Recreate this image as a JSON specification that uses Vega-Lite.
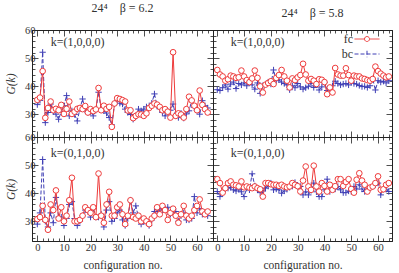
{
"$schema": "https://vega.github.io/schema/vega-lite/v6.json",
"padding": {"left": 5, "right": 1, "top": 1, "bottom": 1},
"spacing": 0,
"bounds": "flush",
"columns": 2,
"resolve": {"scale": {"color": "independent", "shape": "independent", "strokeDash": "independent"}, "legend": {"color": "independent", "shape": "independent", "strokeDash": "independent"}},
"datasets": {
"tl": [
{"c":0,"fc":35.2,"bc":33.5},{"c":1,"fc":36,"bc":35},{"c":2,"fc":45.4,"bc":52.1},{"c":3,"fc":28.8,"bc":27.1},{"c":4,"fc":32.3,"bc":30.7},{"c":5,"fc":34.6,"bc":33.7},{"c":6,"fc":31.5,"bc":31},{"c":7,"fc":32,"bc":30.1},{"c":8,"fc":31.5,"bc":28.3},{"c":9,"fc":33.4,"bc":31},{"c":10,"fc":30.2,"bc":33.1},{"c":11,"fc":32,"bc":36.7},{"c":12,"fc":34.6,"bc":29.5},{"c":13,"fc":30.2,"bc":31.3},{"c":14,"fc":31,"bc":30},{"c":15,"fc":32,"bc":27.7},{"c":16,"fc":32.3,"bc":32},{"c":17,"fc":31.9,"bc":35.5},{"c":18,"fc":33,"bc":31.5},{"c":19,"fc":30.7,"bc":30.7},{"c":20,"fc":31.9,"bc":31},{"c":21,"fc":31.2,"bc":29.5},{"c":22,"fc":31.8,"bc":31.5},{"c":23,"fc":39.4,"bc":37.9},{"c":24,"fc":31.5,"bc":31.9},{"c":25,"fc":33.1,"bc":31.3},{"c":26,"fc":32,"bc":30.5},{"c":27,"fc":32.7,"bc":28.9},{"c":28,"fc":25.6,"bc":26.3},{"c":29,"fc":33.9,"bc":33.7},{"c":30,"fc":35.8,"bc":35.1},{"c":31,"fc":35.5,"bc":34},{"c":32,"fc":35.1,"bc":33.7},{"c":33,"fc":34.6,"bc":31.9},{"c":34,"fc":31.4,"bc":30.7},{"c":35,"fc":31.5,"bc":30},{"c":36,"fc":28.7,"bc":28.3},{"c":37,"fc":29.5,"bc":29.5},{"c":38,"fc":30.1,"bc":31.9},{"c":39,"fc":30,"bc":31.3},{"c":40,"fc":29.5,"bc":31.9},{"c":41,"fc":30.4,"bc":32.7},{"c":42,"fc":32.3,"bc":32.5},{"c":43,"fc":33.1,"bc":34},{"c":44,"fc":33.9,"bc":37.3},{"c":45,"fc":33.5,"bc":33.1},{"c":46,"fc":32.7,"bc":32},{"c":47,"fc":31.5,"bc":30.7},{"c":48,"fc":31.9,"bc":29.5},{"c":49,"fc":31,"bc":31.1},{"c":50,"fc":28.9,"bc":31.5},{"c":51,"fc":52.1,"bc":33.7},{"c":52,"fc":29.5,"bc":29.5},{"c":53,"fc":30.4,"bc":28.9},{"c":54,"fc":30,"bc":30.4},{"c":55,"fc":28.9,"bc":28.7},{"c":56,"fc":31.9,"bc":30.2},{"c":57,"fc":36.3,"bc":31.3},{"c":58,"fc":35,"bc":34.9},{"c":59,"fc":33.1,"bc":32.5},{"c":60,"fc":31.5,"bc":31.5},{"c":61,"fc":38.5,"bc":30.1},{"c":62,"fc":33.4,"bc":34.9},{"c":63,"fc":31.9,"bc":33.1},{"c":64,"fc":30.7,"bc":32.3}
],
"tr": [
{"c":0,"fc":45.8,"bc":38.8},{"c":1,"fc":44.2,"bc":38.5},{"c":2,"fc":43.5,"bc":39.5},{"c":3,"fc":42,"bc":40.5},{"c":4,"fc":42.5,"bc":39},{"c":5,"fc":43.8,"bc":40.8},{"c":6,"fc":43.5,"bc":41.5},{"c":7,"fc":43,"bc":39.2},{"c":8,"fc":43.2,"bc":41},{"c":9,"fc":45.6,"bc":40.5},{"c":10,"fc":43.5,"bc":41.2},{"c":11,"fc":42.2,"bc":40.2},{"c":12,"fc":41.5,"bc":41.8},{"c":13,"fc":42.8,"bc":40.5},{"c":14,"fc":45.6,"bc":39},{"c":15,"fc":43,"bc":41.2},{"c":16,"fc":40,"bc":37.5},{"c":17,"fc":37.8,"bc":40.2},{"c":18,"fc":40.6,"bc":40.8},{"c":19,"fc":41.2,"bc":41.5},{"c":20,"fc":41.8,"bc":40.8},{"c":21,"fc":40.8,"bc":45.8},{"c":22,"fc":43,"bc":42},{"c":23,"fc":44,"bc":42.3},{"c":24,"fc":45.8,"bc":41.5},{"c":25,"fc":43.5,"bc":41},{"c":26,"fc":42,"bc":40.5},{"c":27,"fc":39.6,"bc":38.8},{"c":28,"fc":42.8,"bc":40.2},{"c":29,"fc":42.2,"bc":39.5},{"c":30,"fc":43.2,"bc":41},{"c":31,"fc":44,"bc":39.8},{"c":32,"fc":48,"bc":39},{"c":33,"fc":44.2,"bc":39.5},{"c":34,"fc":42,"bc":40},{"c":35,"fc":42.6,"bc":41},{"c":36,"fc":42,"bc":39.6},{"c":37,"fc":40.8,"bc":40.5},{"c":38,"fc":42.5,"bc":38.7},{"c":39,"fc":42.3,"bc":39.8},{"c":40,"fc":41.5,"bc":41.4},{"c":41,"fc":37.2,"bc":38.5},{"c":42,"fc":39.6,"bc":38.7},{"c":43,"fc":37.8,"bc":40.2},{"c":44,"fc":46.5,"bc":41.8},{"c":45,"fc":44.2,"bc":41},{"c":46,"fc":43.8,"bc":40.5},{"c":47,"fc":43.8,"bc":40.8},{"c":48,"fc":46.4,"bc":41},{"c":49,"fc":44,"bc":40.5},{"c":50,"fc":42,"bc":41.4},{"c":51,"fc":43.8,"bc":41},{"c":52,"fc":43.5,"bc":40.8},{"c":53,"fc":43.5,"bc":40.3},{"c":54,"fc":42.8,"bc":39.9},{"c":55,"fc":42.6,"bc":40},{"c":56,"fc":42.2,"bc":39.6},{"c":57,"fc":42,"bc":40.2},{"c":58,"fc":42.6,"bc":42.6},{"c":59,"fc":47,"bc":38.7},{"c":60,"fc":45.4,"bc":42},{"c":61,"fc":44.5,"bc":41.5},{"c":62,"fc":43.8,"bc":41.8},{"c":63,"fc":43.2,"bc":41.2},{"c":64,"fc":43.5,"bc":42}
],
"bl": [
{"c":0,"fc":30.8,"bc":29},{"c":1,"fc":31.5,"bc":33},{"c":2,"fc":35.5,"bc":52},{"c":3,"fc":30.5,"bc":30},{"c":4,"fc":27,"bc":28},{"c":5,"fc":36,"bc":33},{"c":6,"fc":34,"bc":29.5},{"c":7,"fc":41,"bc":38.5},{"c":8,"fc":31,"bc":31.5},{"c":9,"fc":35,"bc":31.5},{"c":10,"fc":30,"bc":28.5},{"c":11,"fc":32,"bc":31},{"c":12,"fc":37.5,"bc":36},{"c":13,"fc":45.5,"bc":37},{"c":14,"fc":30,"bc":31},{"c":15,"fc":30,"bc":28.5},{"c":16,"fc":30.5,"bc":30},{"c":17,"fc":32,"bc":32},{"c":18,"fc":35,"bc":34},{"c":19,"fc":34,"bc":33.5},{"c":20,"fc":33,"bc":31.5},{"c":21,"fc":35,"bc":34.5},{"c":22,"fc":31.5,"bc":31.5},{"c":23,"fc":47,"bc":31.5},{"c":24,"fc":32,"bc":32.5},{"c":25,"fc":29.5,"bc":28},{"c":26,"fc":36,"bc":34},{"c":27,"fc":40.5,"bc":37},{"c":28,"fc":32,"bc":30},{"c":29,"fc":32,"bc":31},{"c":30,"fc":35,"bc":33},{"c":31,"fc":36,"bc":34},{"c":32,"fc":32.5,"bc":30.5},{"c":33,"fc":29,"bc":28.5},{"c":34,"fc":32,"bc":31},{"c":35,"fc":37.5,"bc":37.5},{"c":36,"fc":31.5,"bc":33},{"c":37,"fc":31,"bc":35.5},{"c":38,"fc":32,"bc":31.5},{"c":39,"fc":30,"bc":29},{"c":40,"fc":31,"bc":30},{"c":41,"fc":30,"bc":29.5},{"c":42,"fc":29,"bc":28.5},{"c":43,"fc":31,"bc":30.5},{"c":44,"fc":32,"bc":33.5},{"c":45,"fc":35,"bc":33.5},{"c":46,"fc":32.5,"bc":34.5},{"c":47,"fc":35.5,"bc":34},{"c":48,"fc":34,"bc":34.5},{"c":49,"fc":30.5,"bc":35},{"c":50,"fc":33,"bc":32.5},{"c":51,"fc":34.5,"bc":33},{"c":52,"fc":32,"bc":33.5},{"c":53,"fc":29.5,"bc":30},{"c":54,"fc":32.5,"bc":32},{"c":55,"fc":35.5,"bc":33},{"c":56,"fc":32,"bc":30.5},{"c":57,"fc":31,"bc":30.5},{"c":58,"fc":32,"bc":31},{"c":59,"fc":34,"bc":38.8},{"c":60,"fc":35.5,"bc":33},{"c":61,"fc":37.8,"bc":34.5},{"c":62,"fc":33.5,"bc":32.5},{"c":63,"fc":32.5,"bc":33},{"c":64,"fc":33.5,"bc":32}
],
"br": [
{"c":0,"fc":45,"bc":40.6},{"c":1,"fc":43.6,"bc":38.8},{"c":2,"fc":40.2,"bc":40.5},{"c":3,"fc":41.8,"bc":41.4},{"c":4,"fc":43.6,"bc":41.8},{"c":5,"fc":44.2,"bc":42.1},{"c":6,"fc":43,"bc":41.2},{"c":7,"fc":42.8,"bc":40.8},{"c":8,"fc":42.4,"bc":41.4},{"c":9,"fc":44.2,"bc":40.5},{"c":10,"fc":42.1,"bc":38.8},{"c":11,"fc":42.4,"bc":41.8},{"c":12,"fc":42,"bc":41.2},{"c":13,"fc":41.8,"bc":46.9},{"c":14,"fc":42.4,"bc":42.6},{"c":15,"fc":41.8,"bc":41.2},{"c":16,"fc":41.4,"bc":40.2},{"c":17,"fc":38.8,"bc":40.8},{"c":18,"fc":43.6,"bc":41.8},{"c":19,"fc":43.6,"bc":42.5},{"c":20,"fc":43.2,"bc":43.6},{"c":21,"fc":43,"bc":41.2},{"c":22,"fc":43,"bc":41.5},{"c":23,"fc":42.6,"bc":41.2},{"c":24,"fc":43,"bc":40},{"c":25,"fc":42.4,"bc":40.8},{"c":26,"fc":42.1,"bc":41.4},{"c":27,"fc":42.4,"bc":42.1},{"c":28,"fc":43.6,"bc":42.5},{"c":29,"fc":43,"bc":43.8},{"c":30,"fc":42.5,"bc":42.4},{"c":31,"fc":40.6,"bc":42.4},{"c":32,"fc":44.5,"bc":39.4},{"c":33,"fc":49.5,"bc":40.5},{"c":34,"fc":42.4,"bc":39.4},{"c":35,"fc":41.2,"bc":41},{"c":36,"fc":49.8,"bc":43.6},{"c":37,"fc":42.4,"bc":40.5},{"c":38,"fc":40.6,"bc":38.8},{"c":39,"fc":43.6,"bc":38.8},{"c":40,"fc":42.6,"bc":41.2},{"c":41,"fc":40.6,"bc":45},{"c":42,"fc":43,"bc":40.6},{"c":43,"fc":41.2,"bc":41.8},{"c":44,"fc":42.5,"bc":41.5},{"c":45,"fc":45,"bc":42.4},{"c":46,"fc":45,"bc":41.2},{"c":47,"fc":42.6,"bc":40.2},{"c":48,"fc":44,"bc":40.2},{"c":49,"fc":45,"bc":40.8},{"c":50,"fc":41.5,"bc":40.6},{"c":51,"fc":40.2,"bc":42.4},{"c":52,"fc":44.8,"bc":41.5},{"c":53,"fc":47.1,"bc":43},{"c":54,"fc":44.5,"bc":41.5},{"c":55,"fc":43,"bc":40.6},{"c":56,"fc":40.6,"bc":41.4},{"c":57,"fc":42,"bc":41.8},{"c":58,"fc":42.4,"bc":42.4},{"c":59,"fc":43.6,"bc":43},{"c":60,"fc":46,"bc":43.6},{"c":61,"fc":41.2,"bc":39.4},{"c":62,"fc":41.4,"bc":41.4},{"c":63,"fc":43,"bc":41.4},{"c":64,"fc":43.6,"bc":40.6}
]
},
"concat": [
{
"width": 181, "height": 107,
"data": {"name": "tl"},
"title": {"text": "24⁴\u2003β = 6.2", "anchor": "middle", "frame": "group", "offset": 10},
"layer": [
{"mark": {"type": "line", "color": "#3f3fb5", "strokeWidth": 1, "strokeDash": [4, 2]},
 "encoding": {
  "x": {"field": "c", "type": "quantitative", "scale": {"domain": [-2, 66], "nice": false, "zero": false},
        "axis": {"orient": "bottom", "labels": false, "title": null, "values": [0,2,4,6,8,10,12,14,16,18,20,22,24,26,28,30,32,34,36,38,40,42,44,46,48,50,52,54,56,58,60,62,64,66], "tickSize": {"condition": {"test": "datum.value % 10 === 0", "value": -6}, "value": -3}}},
  "y": {"field": "bc", "type": "quantitative", "scale": {"domain": [22, 60], "nice": false, "zero": false},
        "axis": {"orient": "left", "title": "G(k)", "titleFontStyle": "italic", "titlePadding": 8, "values": [24,26,28,30,32,34,36,38,40,42,44,46,48,50,52,54,56,58,60], "labelExpr": "datum.value % 10 === 0 ? datum.label : ''", "tickSize": {"condition": {"test": "datum.value % 10 === 0", "value": -6}, "value": -3}, "labelPadding": 3}}
 }},
{"mark": {"type": "point", "shape": "M-1,0H1M0,-1V1", "size": 40, "color": "#3f3fb5", "filled": false, "strokeWidth": 1, "opacity": 1},
 "encoding": {
  "x": {"field": "c", "type": "quantitative", "scale": {"domain": [-2, 66], "nice": false, "zero": false}, "axis": null},
  "y": {"field": "bc", "type": "quantitative", "scale": {"domain": [22, 60], "nice": false, "zero": false}, "axis": null}
 }},
{"mark": {"type": "line", "color": "#ee3b3b", "strokeWidth": 1},
 "encoding": {
  "x": {"field": "c", "type": "quantitative", "scale": {"domain": [-2, 66], "nice": false, "zero": false}, "axis": null},
  "y": {"field": "fc", "type": "quantitative", "scale": {"domain": [22, 60], "nice": false, "zero": false}, "axis": null}
 }},
{"mark": {"type": "point", "shape": "circle", "size": 32, "stroke": "#ee3b3b", "fill": "white", "filled": true, "strokeWidth": 1, "opacity": 1},
 "encoding": {
  "x": {"field": "c", "type": "quantitative", "scale": {"domain": [-2, 66], "nice": false, "zero": false},
        "axis": {"orient": "top", "labels": false, "title": null, "values": [0,2,4,6,8,10,12,14,16,18,20,22,24,26,28,30,32,34,36,38,40,42,44,46,48,50,52,54,56,58,60,62,64,66], "tickSize": {"condition": {"test": "datum.value % 10 === 0", "value": -6}, "value": -3}}},
  "y": {"field": "fc", "type": "quantitative", "scale": {"domain": [22, 60], "nice": false, "zero": false},
        "axis": {"orient": "right", "labels": false, "title": null, "values": [24,26,28,30,32,34,36,38,40,42,44,46,48,50,52,54,56,58,60], "tickSize": {"condition": {"test": "datum.value % 10 === 0", "value": -6}, "value": -3}}}
 }},
{"data": {"values": [{"k": "k=(1,0,0,0)"}]},
 "mark": {"type": "text", "align": "left", "baseline": "middle", "fontSize": 12, "font": "Liberation Serif", "color": "#333"},
 "encoding": {
  "x": {"datum": 5, "type": "quantitative", "scale": {"domain": [-2, 66], "nice": false, "zero": false}, "axis": null},
  "y": {"datum": 55.7, "type": "quantitative", "scale": {"domain": [22, 60], "nice": false, "zero": false}, "axis": null},
  "text": {"field": "k"}
 }}
],
"resolve": {"axis": {"x": "independent", "y": "independent"}}
},
{
"width": 179, "height": 107,
"data": {"name": "tr"},
"title": {"text": "24⁴\u2003β = 5.8", "anchor": "middle", "frame": "group", "offset": 10, "dx": 10},
"layer": [
{"mark": {"type": "line", "color": "#3f3fb5", "strokeWidth": 1, "strokeDash": [4, 2]},
 "encoding": {
  "x": {"field": "c", "type": "quantitative", "scale": {"domain": [-1.6, 65.2], "nice": false, "zero": false},
        "axis": {"orient": "bottom", "labels": false, "title": null, "values": [0,2,4,6,8,10,12,14,16,18,20,22,24,26,28,30,32,34,36,38,40,42,44,46,48,50,52,54,56,58,60,62,64], "tickSize": {"condition": {"test": "datum.value % 10 === 0", "value": -6}, "value": -3}}},
  "y": {"field": "bc", "type": "quantitative", "scale": {"domain": [22, 60], "nice": false, "zero": false},
        "axis": {"orient": "left", "labels": false, "title": null, "values": [24,26,28,30,32,34,36,38,40,42,44,46,48,50,52,54,56,58,60], "tickSize": {"condition": {"test": "datum.value % 10 === 0", "value": -6}, "value": -3}}}
 }},
{"mark": {"type": "point", "shape": "M-1,0H1M0,-1V1", "size": 40, "color": "#3f3fb5", "filled": false, "strokeWidth": 1, "opacity": 1},
 "encoding": {
  "x": {"field": "c", "type": "quantitative", "scale": {"domain": [-1.6, 65.2], "nice": false, "zero": false}, "axis": null},
  "y": {"field": "bc", "type": "quantitative", "scale": {"domain": [22, 60], "nice": false, "zero": false}, "axis": null}
 }},
{"mark": {"type": "line", "color": "#ee3b3b", "strokeWidth": 1},
 "encoding": {
  "x": {"field": "c", "type": "quantitative", "scale": {"domain": [-1.6, 65.2], "nice": false, "zero": false}, "axis": null},
  "y": {"field": "fc", "type": "quantitative", "scale": {"domain": [22, 60], "nice": false, "zero": false}, "axis": null}
 }},
{"mark": {"type": "point", "shape": "circle", "size": 32, "stroke": "#ee3b3b", "fill": "white", "filled": true, "strokeWidth": 1, "opacity": 1},
 "encoding": {
  "x": {"field": "c", "type": "quantitative", "scale": {"domain": [-1.6, 65.2], "nice": false, "zero": false},
        "axis": {"orient": "top", "labels": false, "title": null, "values": [0,2,4,6,8,10,12,14,16,18,20,22,24,26,28,30,32,34,36,38,40,42,44,46,48,50,52,54,56,58,60,62,64], "tickSize": {"condition": {"test": "datum.value % 10 === 0", "value": -6}, "value": -3}}},
  "y": {"field": "fc", "type": "quantitative", "scale": {"domain": [22, 60], "nice": false, "zero": false},
        "axis": {"orient": "right", "labels": false, "title": null, "values": [24,26,28,30,32,34,36,38,40,42,44,46,48,50,52,54,56,58,60], "tickSize": {"condition": {"test": "datum.value % 10 === 0", "value": -6}, "value": -3}}}
 }},
{"data": {"values": [{"k": "k=(1,0,0,0)"}]},
 "mark": {"type": "text", "align": "left", "baseline": "middle", "fontSize": 12, "font": "Liberation Serif", "color": "#333"},
 "encoding": {
  "x": {"datum": 5, "type": "quantitative", "scale": {"domain": [-1.6, 65.2], "nice": false, "zero": false}, "axis": null},
  "y": {"datum": 55.7, "type": "quantitative", "scale": {"domain": [22, 60], "nice": false, "zero": false}, "axis": null},
  "text": {"field": "k"}
 }},
{"transform": [{"fold": ["fc", "bc"], "as": ["series", "G"]}, {"filter": "datum.c < -100"}],
 "mark": {"type": "point", "filled": false, "strokeWidth": 1, "opacity": 1},
 "encoding": {
  "x": {"field": "c", "type": "quantitative", "scale": {"domain": [-1.6, 65.2], "nice": false, "zero": false}, "axis": null},
  "y": {"field": "G", "type": "quantitative", "scale": {"domain": [22, 60], "nice": false, "zero": false}, "axis": null},
  "color": {"field": "series", "type": "nominal", "scale": {"domain": ["fc", "bc"], "range": ["#ee3b3b", "#3f3fb5"]},
            "legend": {"title": null, "orient": "none", "legendX": 148, "legendY": 3, "labelAlign": "right", "labelOffset": -20, "rowPadding": 3, "labelFontSize": 12, "labelFont": "Liberation Serif", "labelColor": "#333", "symbolSize": 25, "symbolStrokeWidth": 1, "padding": 0}},
  "shape": {"field": "series", "type": "nominal", "scale": {"domain": ["fc", "bc"], "range": ["M-5,0H-1M1,0H5M-1,0A1,1,0,1,1,1,0A1,1,0,1,1,-1,0", "M-5,0H5M0,-1.3V1.3"]}},
  "strokeDash": {"field": "series", "type": "nominal", "scale": {"domain": ["fc", "bc"], "range": [[1, 0], [4, 2]]}}
 }}
],
"resolve": {"axis": {"x": "independent", "y": "independent"}}
},
{
"width": 181, "height": 104,
"data": {"name": "bl"},
"layer": [
{"mark": {"type": "line", "color": "#3f3fb5", "strokeWidth": 1, "strokeDash": [4, 2]},
 "encoding": {
  "x": {"field": "c", "type": "quantitative", "scale": {"domain": [-2, 66], "nice": false, "zero": false},
        "axis": {"orient": "bottom", "title": "configuration no.", "titlePadding": 4, "values": [0,2,4,6,8,10,12,14,16,18,20,22,24,26,28,30,32,34,36,38,40,42,44,46,48,50,52,54,56,58,60,62,64,66], "labelExpr": "datum.value % 10 === 0 ? datum.label : ''", "tickSize": {"condition": {"test": "datum.value % 10 === 0", "value": -6}, "value": -3}, "labelPadding": 7}},
  "y": {"field": "bc", "type": "quantitative", "scale": {"domain": [23, 60], "nice": false, "zero": false},
        "axis": {"orient": "left", "title": "G(k)", "titleFontStyle": "italic", "titlePadding": 8, "values": [24,26,28,30,32,34,36,38,40,42,44,46,48,50,52,54,56,58,60], "labelExpr": "datum.value % 10 === 0 ? datum.label : ''", "tickSize": {"condition": {"test": "datum.value % 10 === 0", "value": -6}, "value": -3}, "labelPadding": 3}}
 }},
{"mark": {"type": "point", "shape": "M-1,0H1M0,-1V1", "size": 40, "color": "#3f3fb5", "filled": false, "strokeWidth": 1, "opacity": 1},
 "encoding": {
  "x": {"field": "c", "type": "quantitative", "scale": {"domain": [-2, 66], "nice": false, "zero": false}, "axis": null},
  "y": {"field": "bc", "type": "quantitative", "scale": {"domain": [23, 60], "nice": false, "zero": false}, "axis": null}
 }},
{"mark": {"type": "line", "color": "#ee3b3b", "strokeWidth": 1},
 "encoding": {
  "x": {"field": "c", "type": "quantitative", "scale": {"domain": [-2, 66], "nice": false, "zero": false}, "axis": null},
  "y": {"field": "fc", "type": "quantitative", "scale": {"domain": [23, 60], "nice": false, "zero": false}, "axis": null}
 }},
{"mark": {"type": "point", "shape": "circle", "size": 32, "stroke": "#ee3b3b", "fill": "white", "filled": true, "strokeWidth": 1, "opacity": 1},
 "encoding": {
  "x": {"field": "c", "type": "quantitative", "scale": {"domain": [-2, 66], "nice": false, "zero": false},
        "axis": {"orient": "top", "labels": false, "title": null, "values": [0,2,4,6,8,10,12,14,16,18,20,22,24,26,28,30,32,34,36,38,40,42,44,46,48,50,52,54,56,58,60,62,64,66], "tickSize": {"condition": {"test": "datum.value % 10 === 0", "value": -6}, "value": -3}}},
  "y": {"field": "fc", "type": "quantitative", "scale": {"domain": [23, 60], "nice": false, "zero": false},
        "axis": {"orient": "right", "labels": false, "title": null, "values": [24,26,28,30,32,34,36,38,40,42,44,46,48,50,52,54,56,58,60], "tickSize": {"condition": {"test": "datum.value % 10 === 0", "value": -6}, "value": -3}}}
 }},
{"data": {"values": [{"k": "k=(0,1,0,0)"}]},
 "mark": {"type": "text", "align": "left", "baseline": "middle", "fontSize": 12, "font": "Liberation Serif", "color": "#333"},
 "encoding": {
  "x": {"datum": 5, "type": "quantitative", "scale": {"domain": [-2, 66], "nice": false, "zero": false}, "axis": null},
  "y": {"datum": 54.3, "type": "quantitative", "scale": {"domain": [23, 60], "nice": false, "zero": false}, "axis": null},
  "text": {"field": "k"}
 }}
],
"resolve": {"axis": {"x": "independent", "y": "independent"}}
},
{
"width": 179, "height": 104,
"data": {"name": "br"},
"layer": [
{"mark": {"type": "line", "color": "#3f3fb5", "strokeWidth": 1, "strokeDash": [4, 2]},
 "encoding": {
  "x": {"field": "c", "type": "quantitative", "scale": {"domain": [-1.6, 65.2], "nice": false, "zero": false},
        "axis": {"orient": "bottom", "title": "configuration no.", "titlePadding": 4, "values": [0,2,4,6,8,10,12,14,16,18,20,22,24,26,28,30,32,34,36,38,40,42,44,46,48,50,52,54,56,58,60,62,64], "labelExpr": "datum.value % 10 === 0 ? datum.label : ''", "tickSize": {"condition": {"test": "datum.value % 10 === 0", "value": -6}, "value": -3}, "labelPadding": 7}},
  "y": {"field": "bc", "type": "quantitative", "scale": {"domain": [23, 60], "nice": false, "zero": false},
        "axis": {"orient": "left", "labels": false, "title": null, "values": [24,26,28,30,32,34,36,38,40,42,44,46,48,50,52,54,56,58,60], "tickSize": {"condition": {"test": "datum.value % 10 === 0", "value": -6}, "value": -3}}}
 }},
{"mark": {"type": "point", "shape": "M-1,0H1M0,-1V1", "size": 40, "color": "#3f3fb5", "filled": false, "strokeWidth": 1, "opacity": 1},
 "encoding": {
  "x": {"field": "c", "type": "quantitative", "scale": {"domain": [-1.6, 65.2], "nice": false, "zero": false}, "axis": null},
  "y": {"field": "bc", "type": "quantitative", "scale": {"domain": [23, 60], "nice": false, "zero": false}, "axis": null}
 }},
{"mark": {"type": "line", "color": "#ee3b3b", "strokeWidth": 1},
 "encoding": {
  "x": {"field": "c", "type": "quantitative", "scale": {"domain": [-1.6, 65.2], "nice": false, "zero": false}, "axis": null},
  "y": {"field": "fc", "type": "quantitative", "scale": {"domain": [23, 60], "nice": false, "zero": false}, "axis": null}
 }},
{"mark": {"type": "point", "shape": "circle", "size": 32, "stroke": "#ee3b3b", "fill": "white", "filled": true, "strokeWidth": 1, "opacity": 1},
 "encoding": {
  "x": {"field": "c", "type": "quantitative", "scale": {"domain": [-1.6, 65.2], "nice": false, "zero": false},
        "axis": {"orient": "top", "labels": false, "title": null, "values": [0,2,4,6,8,10,12,14,16,18,20,22,24,26,28,30,32,34,36,38,40,42,44,46,48,50,52,54,56,58,60,62,64], "tickSize": {"condition": {"test": "datum.value % 10 === 0", "value": -6}, "value": -3}}},
  "y": {"field": "fc", "type": "quantitative", "scale": {"domain": [23, 60], "nice": false, "zero": false},
        "axis": {"orient": "right", "labels": false, "title": null, "values": [24,26,28,30,32,34,36,38,40,42,44,46,48,50,52,54,56,58,60], "tickSize": {"condition": {"test": "datum.value % 10 === 0", "value": -6}, "value": -3}}}
 }},
{"data": {"values": [{"k": "k=(0,1,0,0)"}]},
 "mark": {"type": "text", "align": "left", "baseline": "middle", "fontSize": 12, "font": "Liberation Serif", "color": "#333"},
 "encoding": {
  "x": {"datum": 5, "type": "quantitative", "scale": {"domain": [-1.6, 65.2], "nice": false, "zero": false}, "axis": null},
  "y": {"datum": 54.3, "type": "quantitative", "scale": {"domain": [23, 60], "nice": false, "zero": false}, "axis": null},
  "text": {"field": "k"}
 }}
],
"resolve": {"axis": {"x": "independent", "y": "independent"}}
}
],
"config": {
 "font": "Liberation Serif",
 "view": {"stroke": "#222"},
 "axis": {"grid": false, "domainColor": "#222", "tickColor": "#222", "labelColor": "#333", "labelFont": "Liberation Serif", "labelFontSize": 10.5, "titleFont": "Liberation Serif", "titleFontSize": 11.5, "titleFontWeight": "normal", "titleColor": "#333", "labelOverlap": false, "labelFlush": false, "tickWidth": 0.8, "domainWidth": 1},
 "title": {"font": "Liberation Serif", "fontSize": 12, "fontWeight": "normal", "color": "#333"}
}
}
